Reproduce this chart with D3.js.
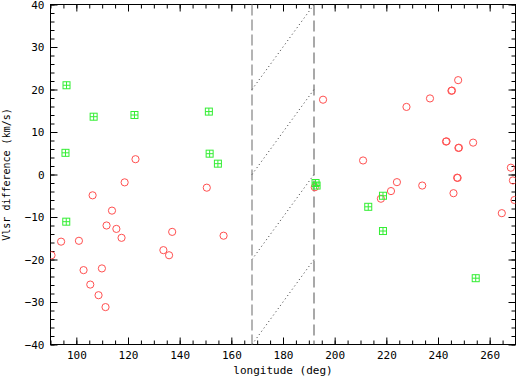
<!DOCTYPE html>
<html>
<head>
<meta charset="utf-8">
<script src="https://cdn.jsdelivr.net/npm/d3@7"></script>
<style>
  html, body { margin: 0; padding: 0; background: #fff; }
  svg { display: block; }
  text { font-family: "DejaVu Sans Mono", monospace; fill: #000; }
</style>
</head>
<body>
<svg id="chart" width="516" height="377"></svg>
<script>
// ---- data (longitude deg, Vlsr difference km/s) ----
const redLon = [90.4, 94.1, 101.0, 102.8, 105.4, 106.3, 108.6, 109.9, 111.3, 111.7, 113.8, 115.5, 117.5, 118.7, 122.9,
  133.7, 135.9, 137.1, 150.5, 157.0, 192.3, 195.5, 211.0, 217.9, 221.8, 224.1, 227.8, 233.9, 236.9,
  243.1, 243.3, 245.2, 245.4, 246.0, 247.4, 247.6, 247.8, 247.9, 248.1, 253.6, 264.7, 268.2, 269.0, 269.6];
const redV = [-19.0, -15.8, -15.6, -22.5, -25.9, -4.9, -28.4, -22.1, -31.2, -12.0, -8.5, -12.8, -14.9, -1.85, 3.6,
  -17.8, -19.0, -13.5, -3.1, -14.4, -3.0, 17.6, 3.3, -5.7, -3.9, -1.8, 15.9, -2.6, 17.9,
  7.75, 7.8, 19.7, 19.75, -4.4, -0.75, -0.8, 22.2, 6.25, 6.3, 7.5, -9.1, 1.6, -1.4, -6.0];

const greenLon = [96.2, 106.7, 122.5, 95.8, 96.1, 151.3, 151.6, 154.8, 192.6, 193.0, 218.7, 213.0, 218.7, 254.6];
const greenV = [21.0, 13.6, 14.0, 5.1, -11.1, 14.8, 4.9, 2.55, -2.0, -2.6, -5.0, -7.6, -13.3, -24.4];

// vertical boundary lines (deg)
const boundLight = 168;
const boundDark = 192;
// dotted diagonal guide segments: start/end longitude and velocity
const guideLon0 = [168, 168, 168, 168];
const guideLon1 = [192, 192, 192, 192];
const guideV0 = [20, 0, -20, -40];
const guideV1 = [40, 20, 0, -20];

const xDomain = [90, 270];
const yDomain = [-40, 40];
const xMajor = [100, 120, 140, 160, 180, 200, 220, 240, 260];
const yMajor = [-40, -30, -20, -10, 0, 10, 20, 30, 40];
const xLabel = "longitude (deg)";
const yLabel = "Vlsr difference (km/s)";

// ---- layout ----
const L = 50.5, R = 515.5, T = 4.5, B = 344.5;
const svg = d3.select("#chart");
const x = d3.scaleLinear().domain(xDomain).range([L, R]);
const y = d3.scaleLinear().domain(yDomain).range([B, T]);

const xMinor = d3.range(90, 271, 5);
const yMinor = d3.range(-40, 41, 2);

function styleAxis(g) {
  g.select(".domain").remove();
  g.selectAll(".tick line").attr("stroke", "#000").attr("stroke-width", 1);
  g.selectAll("text").style("font-family", "DejaVu Sans Mono, monospace").style("font-size", "11px");
}

// minor ticks (inward)
svg.append("g").attr("transform", `translate(0,${B})`)
  .call(d3.axisBottom(x).tickValues(xMinor).tickSize(-4).tickFormat(""))
  .call(styleAxis);
svg.append("g").attr("transform", `translate(0,${T})`)
  .call(d3.axisTop(x).tickValues(xMinor).tickSize(-4).tickFormat(""))
  .call(styleAxis);
svg.append("g").attr("transform", `translate(${L},0)`)
  .call(d3.axisLeft(y).tickValues(yMinor).tickSize(-4).tickFormat(""))
  .call(styleAxis);
svg.append("g").attr("transform", `translate(${R},0)`)
  .call(d3.axisRight(y).tickValues(yMinor).tickSize(-4).tickFormat(""))
  .call(styleAxis);

// major ticks with labels
const fmt = d => d < 0 ? "\u2212" + Math.abs(d) : String(d);
svg.append("g").attr("transform", `translate(0,${B})`)
  .call(d3.axisBottom(x).tickValues(xMajor).tickSizeInner(-7).tickSizeOuter(0).tickPadding(7).tickFormat(fmt))
  .call(styleAxis);
svg.append("g").attr("transform", `translate(0,${T})`)
  .call(d3.axisTop(x).tickValues(xMajor).tickSizeInner(-7).tickSizeOuter(0).tickFormat(""))
  .call(styleAxis);
svg.append("g").attr("transform", `translate(${L},0)`)
  .call(d3.axisLeft(y).tickValues(yMajor).tickSizeInner(-7).tickSizeOuter(0).tickPadding(6).tickFormat(fmt))
  .call(styleAxis);
svg.append("g").attr("transform", `translate(${R},0)`)
  .call(d3.axisRight(y).tickValues(yMajor).tickSizeInner(-7).tickSizeOuter(0).tickFormat(""))
  .call(styleAxis);

// frame
svg.append("rect").attr("x", L).attr("y", T).attr("width", R - L).attr("height", B - T)
  .attr("fill", "none").attr("stroke", "#000").attr("stroke-width", 1);

// clip
svg.append("clipPath").attr("id", "plotclip").append("rect")
  .attr("x", L).attr("y", T).attr("width", R - L).attr("height", B - T);
const plot = svg.append("g").attr("clip-path", "url(#plotclip)");

// vertical dashed boundaries
plot.append("line").attr("x1", x(boundLight)).attr("x2", x(boundLight)).attr("y1", y(40)).attr("y2", y(-40))
  .attr("stroke", "#b4b4b4").attr("stroke-width", 2).attr("stroke-dasharray", "11,4");
plot.append("line").attr("x1", x(boundDark)).attr("x2", x(boundDark)).attr("y1", y(40)).attr("y2", y(-40))
  .attr("stroke", "#6e6e6e").attr("stroke-width", 1.2).attr("stroke-dasharray", "11,5");

// dotted guides
guideLon0.forEach((l0, i) => {
  plot.append("line")
    .attr("x1", x(l0)).attr("y1", y(guideV0[i]))
    .attr("x2", x(guideLon1[i])).attr("y2", y(guideV1[i]))
    .attr("stroke", "#333").attr("stroke-width", 1).attr("stroke-dasharray", "1,3");
});

// red circles
plot.append("g").selectAll("circle").data(redLon.map((l, i) => [l, redV[i]])).join("circle")
  .attr("cx", d => x(d[0])).attr("cy", d => y(d[1])).attr("r", 3.6)
  .attr("fill", "none").attr("stroke", "#ff5050").attr("stroke-width", 1);

// green boxed plus markers
const gs = 3.5;
const gg = plot.append("g").selectAll("g").data(greenLon.map((l, i) => [l, greenV[i]])).join("g")
  .attr("transform", d => `translate(${x(d[0])},${y(d[1])})`);
gg.append("rect").attr("x", -gs).attr("y", -gs).attr("width", 2 * gs).attr("height", 2 * gs)
  .attr("fill", "none").attr("stroke", "#33ee33").attr("stroke-width", 1);
gg.append("path").attr("d", `M${-gs},0H${gs}M0,${-gs}V${gs}`)
  .attr("stroke", "#33ee33").attr("stroke-width", 1);

// axis titles
svg.append("text").attr("x", (L + R) / 2).attr("y", 373.5).attr("text-anchor", "middle")
  .style("font-size", "11px").text(xLabel);
svg.append("text").attr("transform", `translate(10,${(T + B) / 2}) rotate(-90)`).attr("text-anchor", "middle")
  .style("font-size", "10px").text(yLabel);
</script>
</body>
</html>
